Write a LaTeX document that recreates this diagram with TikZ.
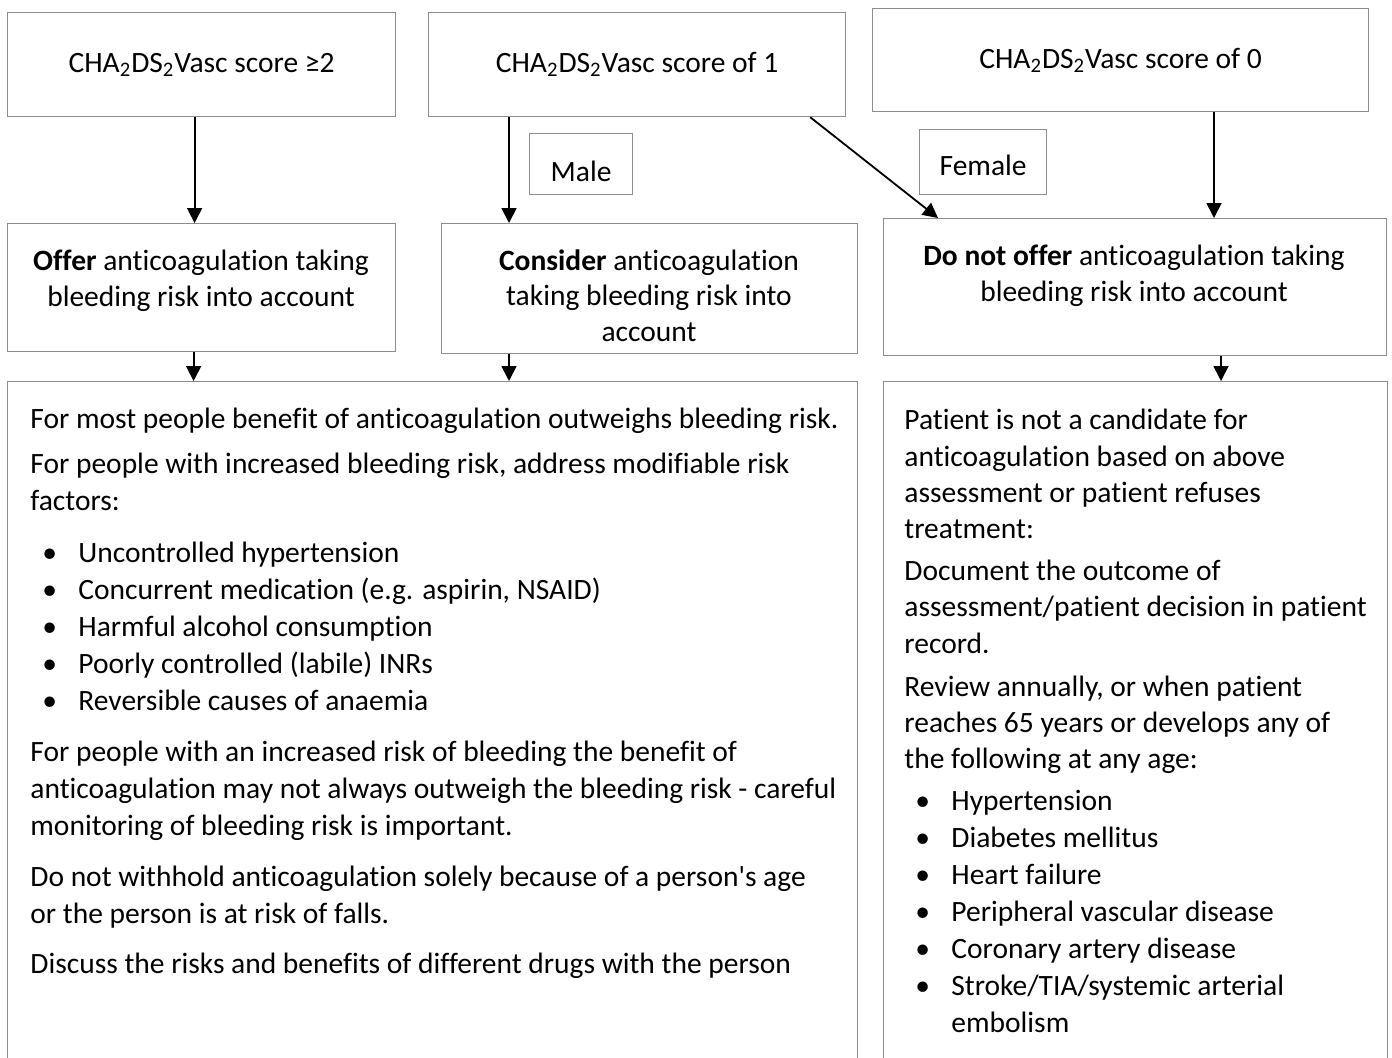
\documentclass[tikz,border=0pt]{standalone}
\usepackage{fontspec}
\setmainfont{Carlito}[Ligatures=NoCommon]
\usetikzlibrary{arrows.meta, positioning}
\definecolor{boxgray}{HTML}{8C8C8C}
\newcommand{\bodyfont}{\fontsize{14.75}{18.5}\selectfont}
\newcommand{\bul}{\hspace*{6pt}\makebox[18pt][l]{\textbullet}}
\newcommand{\chads}{CHA\textsubscript{2}DS\textsubscript{2}Vasc}
\tikzstyle{box}=[rectangle,draw=boxgray,line width=0.6pt,
  inner sep=0pt,anchor=north west,align=center,font=\bodyfont]
\tikzstyle{boxtext}=[inner sep=0pt,align=center,
  font=\fontsize{14.75}{17.75}\selectfont]
\tikzstyle{listtext}=[inner sep=0pt,align=left,anchor=north west,font=\bodyfont]
\tikzstyle{arr}=[-{Triangle[width=7.5pt,length=7.5pt]},line width=0.9pt,black]

\begin{document}
\begin{tikzpicture}[x=0.5pt,y=-0.5pt]
  \useasboundingbox (0,0) rectangle (1392,1057);
  \clip (0,0) rectangle (1392,1057);
  % score boxes
  \node[box,minimum width=194pt,minimum height=52pt] (sc2) at (7,12) {\chads{} score ≥2};
  \node[box,minimum width=208.5pt,minimum height=52pt] (sc1) at (428,12) {\chads{} score of 1};
  \node[box,minimum width=248pt,minimum height=51.5pt] (sc0) at (872,8) {\chads{} score of 0};
  \node[box,minimum width=51.5pt,minimum height=30.5pt,text height=17pt,text depth=0pt] (male) at (529,133) {Male};
  \node[box,minimum width=63.5pt,minimum height=32.5pt,text height=13pt,text depth=0pt] (female) at (919,129) {Female};
  % decision boxes
  \node[box,minimum width=194pt,minimum height=64pt] (offer) at (7,223) {};
  \node[box,minimum width=208pt,minimum height=65pt] (consider) at (441,223) {};
  \node[box,minimum width=251.5pt,minimum height=68.5pt] (dno) at (883,218) {};
  \node[boxtext,anchor=north] (offertxt) at (201,250) {\textbf{Offer} anticoagulation taking\\bleeding risk into account};
  \node[boxtext,anchor=north] (considertxt) at (649,249) {\textbf{Consider} anticoagulation\\taking bleeding risk into\\account};
  \node[boxtext,anchor=north] (dnotxt) at (1134,245) {\textbf{Do not offer} anticoagulation taking\\bleeding risk into account};
  % advice boxes
  \node[box,minimum width=425pt,minimum height=400pt] (advice) at (7,381) {};
  \node[box,minimum width=252pt,minimum height=400pt] (review) at (883,381) {};
  \node[listtext] (advicetxt) at (30,408) {%
    For most people benefit of anticoagulation outweighs bleeding risk.\\[4pt]
    For people with increased bleeding risk, address modifiable risk\\
    factors:\\[7.5pt]
    \bul Uncontrolled hypertension\\
    \bul Concurrent medication (e.g. aspirin, NSAID)\\
    \bul Harmful alcohol consumption\\
    \bul Poorly controlled (labile) INRs\\
    \bul Reversible causes of anaemia\\[7pt]
    For people with an increased risk of bleeding the benefit of\\
    anticoagulation may not always outweigh the bleeding risk - careful\\
    monitoring of bleeding risk is important.\\[7pt]
    Do not withhold anticoagulation solely because of a person\textquotesingle s age\\
    or the person is at risk of falls.\\[6.5pt]
    Discuss the risks and benefits of different drugs with the person};
  \node[listtext,font=\fontsize{14.75}{18.1}\selectfont] (reviewtxt) at (904,409) {%
    Patient is not a candidate for\\
    anticoagulation based on above\\
    assessment or patient refuses\\
    treatment:\\[3pt]
    Document the outcome of\\
    assessment/patient decision in patient\\
    record.\\[3.5pt]
    Review annually, or when patient\\
    reaches 65 years or develops any of\\
    the following at any age:\\[3pt]
    \hspace*{-0.5pt}\bul Hypertension\\[0.4pt]
    \hspace*{-0.5pt}\bul Diabetes mellitus\\[0.4pt]
    \hspace*{-0.5pt}\bul Heart failure\\[0.4pt]
    \hspace*{-0.5pt}\bul Peripheral vascular disease\\[0.4pt]
    \hspace*{-0.5pt}\bul Coronary artery disease\\[0.4pt]
    \hspace*{-0.5pt}\bul Stroke/TIA/systemic arterial\\[0.2pt]
    \hspace*{23.5pt}embolism};
  % connectors
  \draw[arr] ([xshift=-3.5pt]sc2.south) -- ([xshift=-3.5pt]sc2.south |- offer.north);
  \draw[arr] ([xshift=40.5pt]sc1.south west) -- ([xshift=40.5pt]sc1.south west |- consider.north);
  \draw[arr] ([xshift=-18pt]sc1.south east) -- ([xshift=27.5pt]dno.north west);
  \draw[arr] ([xshift=171pt]sc0.south west) -- ([xshift=171pt]sc0.south west |- dno.north);
  \draw[arr] ([xshift=-4pt]offer.south) -- ([xshift=-4pt]offer.south |- advice.north);
  \draw[arr] ([xshift=34pt]consider.south west) -- ([xshift=34pt]consider.south west |- advice.north);
  \draw[arr] ([xshift=169pt]dno.south west) -- ([xshift=169pt]dno.south west |- review.north);
\end{tikzpicture}
\end{document}
